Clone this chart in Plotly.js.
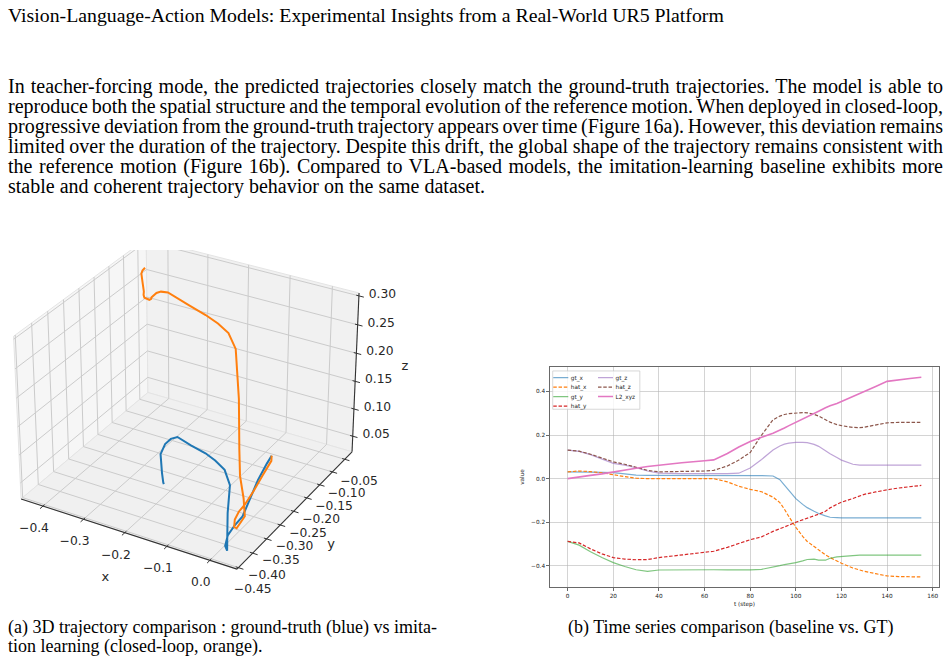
<!DOCTYPE html>
<html>
<head>
<meta charset="utf-8">
<script src="https://cdn.plot.ly/plotly-3.0.1.min.js"></script>
<style>
  html, body { margin: 0; padding: 0; background: #fff; }
  body { width: 951px; height: 664px; position: relative; overflow: hidden;
         font-family: "Liberation Serif", "Times New Roman", serif; color: #000; }
  .title { position: absolute; left: 8px; top: 5px; font-size: 19.8px; line-height: 20px; white-space: nowrap; }
  .para { position: absolute; left: 8px; top: 76px; width: 935px; font-size: 20px; line-height: 20px; }
  .para .ln { white-space: nowrap; }
  .cap { position: absolute; font-size: 18px; line-height: 19px; white-space: nowrap; }
  #traj3d { position: absolute; left: 0; top: 250px; width: 430px; height: 365px; }
  #series { position: absolute; left: 510px; top: 360px; width: 882px; height: 500px;
            transform: scale(0.5); transform-origin: 0 0; }
</style>
</head>
<body>
<div class="title">Vision-Language-Action Models: Experimental Insights from a Real-World UR5 Platform</div>
<div class="para">
  <div class="ln"><span>In teacher-forcing mode, the predicted trajectories closely match the ground-truth trajectories. The model is able to</span></div>
  <div class="ln"><span>reproduce both the spatial structure and the temporal evolution of the reference motion. When deployed in closed-loop,</span></div>
  <div class="ln"><span>progressive deviation from the ground-truth trajectory appears over time (Figure 16a). However, this deviation remains</span></div>
  <div class="ln"><span>limited over the duration of the trajectory. Despite this drift, the global shape of the trajectory remains consistent with</span></div>
  <div class="ln"><span>the reference motion (Figure 16b). Compared to VLA-based models, the imitation-learning baseline exhibits more</span></div>
  <div class="ln last"><span>stable and coherent trajectory behavior on the same dataset.</span></div>
</div>
<div id="traj3d"></div>
<div id="series"></div>
<div class="cap" style="left:8px; top:618px;">(a) 3D trajectory comparison : ground-truth (blue) vs imita-<br>tion learning (closed-loop, orange).</div>
<div class="cap" style="left:568px; top:618px;">(b) Time series comparison (baseline vs. GT)</div>

<script>
// time steps of the recorded episode
const t = [0, 5, 10, 15, 20, 25, 30, 35, 40, 50, 60, 64, 70, 75, 80, 85, 90, 93, 95, 97, 100,
           103, 105, 108, 110, 113, 115, 118, 120, 125, 128, 130, 135, 140, 145, 150, 155];

// ground-truth end-effector position
const gt_x = [0.031, 0.031, 0.030, 0.029, 0.028, 0.022, 0.016, 0.015, 0.015, 0.015, 0.015, 0.015, 0.015, 0.015, 0.015, 0.014, 0.012, -0.005, -0.030, -0.055, -0.092,
              -0.118, -0.133, -0.150, -0.160, -0.171, -0.177, -0.179, -0.180, -0.180, -0.180, -0.180, -0.180, -0.180, -0.180, -0.180, -0.180];
const gt_y = [-0.288, -0.305, -0.335, -0.362, -0.385, -0.403, -0.418, -0.425, -0.419, -0.418, -0.418, -0.418, -0.418, -0.418, -0.418, -0.416, -0.406, -0.399, -0.394, -0.390, -0.385,
              -0.377, -0.371, -0.369, -0.374, -0.374, -0.365, -0.359, -0.357, -0.353, -0.351, -0.351, -0.351, -0.351, -0.351, -0.351, -0.351];
const gt_z = [0.131, 0.125, 0.110, 0.090, 0.070, 0.062, 0.050, 0.035, 0.025, 0.023, 0.023, 0.023, 0.023, 0.025, 0.049, 0.088, 0.131, 0.150, 0.158, 0.163, 0.166,
              0.166, 0.165, 0.157, 0.148, 0.128, 0.114, 0.097, 0.085, 0.066, 0.062, 0.062, 0.062, 0.062, 0.062, 0.062, 0.062];

// imitation-learning policy, closed-loop rollout
const hat_x = [0.031, 0.035, 0.032, 0.027, 0.018, 0.009, 0.002, 0.000, 0.000, 0.000, 0.000, 0.000, -0.015, -0.035, -0.049, -0.060, -0.085, -0.110, -0.140, -0.175, -0.223,
               -0.265, -0.288, -0.312, -0.328, -0.350, -0.362, -0.378, -0.388, -0.410, -0.420, -0.425, -0.436, -0.446, -0.449, -0.450, -0.451];
const hat_y = [-0.288, -0.295, -0.322, -0.345, -0.362, -0.369, -0.372, -0.371, -0.362, -0.350, -0.338, -0.333, -0.315, -0.298, -0.280, -0.267, -0.242, -0.230, -0.222, -0.213, -0.200,
               -0.189, -0.180, -0.170, -0.163, -0.150, -0.134, -0.118, -0.108, -0.091, -0.080, -0.072, -0.061, -0.051, -0.043, -0.037, -0.031];
const hat_z = [0.131, 0.126, 0.112, 0.095, 0.077, 0.066, 0.052, 0.038, 0.031, 0.033, 0.035, 0.038, 0.058, 0.085, 0.120, 0.200, 0.270, 0.287, 0.294, 0.298, 0.300,
               0.303, 0.302, 0.295, 0.287, 0.270, 0.259, 0.248, 0.243, 0.235, 0.234, 0.236, 0.246, 0.256, 0.258, 0.258, 0.258];

// Euclidean error between the two trajectories
const L2_xyz = [0.000, 0.008, 0.015, 0.022, 0.031, 0.040, 0.048, 0.056, 0.062, 0.073, 0.082, 0.086, 0.115, 0.145, 0.170, 0.190, 0.208, 0.222, 0.232, 0.243, 0.258,
                0.272, 0.282, 0.297, 0.309, 0.325, 0.334, 0.345, 0.354, 0.378, 0.391, 0.400, 0.423, 0.446, 0.453, 0.459, 0.465];

// 3D axis limits and ticks
const xLim3d = [-0.455, 0.062];
const yLim3d = [-0.455, -0.020];
const zLim3d = [0.021, 0.305];
const xTicks3d = [-0.4, -0.3, -0.2, -0.1, 0.0];
const yTicks3d = [-0.45, -0.40, -0.35, -0.30, -0.25, -0.20, -0.15, -0.10, -0.05];
const zTicks3d = [0.05, 0.10, 0.15, 0.20, 0.25, 0.30];

// time-series axis ticks
const tTicks = [0, 20, 40, 60, 80, 100, 120, 140, 160];
const vTicks = [-0.4, -0.2, 0.0, 0.2, 0.4];

const MPL = { blue: '#1f77b4', orange: '#ff7f0e', green: '#2ca02c', red: '#d62728',
              purple: '#9467bd', brown: '#8c564b', pink: '#e377c2' };
const sans = 'DejaVu Sans, sans-serif';
const cfg = { displayModeBar: false, staticPlot: true };
const MINUS = '\u2212';

// ---------- justified paragraph: spread each line to the full column width ----------
document.querySelectorAll('.para .ln').forEach(function (div) {
  if (div.classList.contains('last')) return;
  const span = div.querySelector('span');
  const w = span.getBoundingClientRect().width;
  const gaps = (span.textContent.match(/ /g) || []).length;
  if (gaps) span.style.wordSpacing = ((935 - w) / gaps) + 'px';
});

// ---------- 3D trajectories: perspective view (elev 30, azim -60, box 4:4:3) ----------
const VIEW = { elev: 30, azim: -60, dist: 35, box: [4, 4, 3], cx: 189.5, cy: 146.3, scale: 61.85 };
const PANEL = { w: 430, h: 365 };
const el = VIEW.elev * Math.PI / 180, az = VIEW.azim * Math.PI / 180;
const Wv = [Math.cos(el) * Math.cos(az), Math.cos(el) * Math.sin(az), Math.sin(el)];
const Fv = [-Wv[0], -Wv[1], -Wv[2]];
function cross(a, b) { return [a[1] * b[2] - a[2] * b[1], a[2] * b[0] - a[0] * b[2], a[0] * b[1] - a[1] * b[0]]; }
function norm(a) { const n = Math.hypot(a[0], a[1], a[2]); return [a[0] / n, a[1] / n, a[2] / n]; }
const Rv = norm(cross(Fv, [0, 0, 1]));
const Uv = cross(Rv, Fv);

function project(x, y, z) {
  const p = [
    VIEW.box[0] * (x - xLim3d[0]) / (xLim3d[1] - xLim3d[0]) - VIEW.box[0] / 2,
    VIEW.box[1] * (y - yLim3d[0]) / (yLim3d[1] - yLim3d[0]) - VIEW.box[1] / 2,
    VIEW.box[2] * (z - zLim3d[0]) / (zLim3d[1] - zLim3d[0]) - VIEW.box[2] / 2
  ];
  const d = p[0] * Wv[0] + p[1] * Wv[1] + p[2] * Wv[2];
  const f = VIEW.dist / (VIEW.dist - d);
  const r = p[0] * Rv[0] + p[1] * Rv[1] + p[2] * Rv[2];
  const u = p[0] * Uv[0] + p[1] * Uv[1] + p[2] * Uv[2];
  return [VIEW.cx + VIEW.scale * f * r, VIEW.cy - VIEW.scale * f * u];
}

// collects projected polylines, separated by gaps
function Path() { this.x = []; this.y = []; }
Path.prototype.add = function (pts) {
  if (this.x.length) { this.x.push(null); this.y.push(null); }
  pts.forEach(p => { const q = project(p[0], p[1], p[2]); this.x.push(q[0]); this.y.push(q[1]); });
  return this;
};

const [x0, x1] = xLim3d, [y0, y1] = yLim3d, [z0, z1] = zLim3d;

function pane(corners, color) {
  const p = new Path().add(corners.concat([corners[0]]));
  return { type: 'scatter', mode: 'lines', x: p.x, y: p.y, fill: 'toself', fillcolor: color,
           line: { color: '#e4e4e4', width: 1 }, hoverinfo: 'skip' };
}

const grid = new Path();
yTicks3d.forEach(v => grid.add([[x0, v, z0], [x0, v, z1]]).add([[x0, v, z0], [x1, v, z0]]));
xTicks3d.forEach(v => grid.add([[v, y1, z0], [v, y1, z1]]).add([[v, y0, z0], [v, y1, z0]]));
zTicks3d.forEach(v => grid.add([[x0, y0, v], [x0, y1, v]]).add([[x0, y1, v], [x1, y1, v]]));

const spines = new Path()
  .add([[x0, y0, z0], [x1, y0, z0]])
  .add([[x1, y0, z0], [x1, y1, z0]])
  .add([[x1, y1, z0], [x1, y1, z1]]);

const xr = x1 - x0, yr = y1 - y0;
const tickMarks = new Path();
xTicks3d.forEach(v => tickMarks.add([[v, y0 + 0.012 * yr, z0], [v, y0 - 0.022 * yr, z0]]));
yTicks3d.forEach(v => tickMarks.add([[x1 - 0.012 * xr, v, z0], [x1 + 0.022 * xr, v, z0]]));
zTicks3d.forEach(v => tickMarks.add([[x1 - 0.012 * xr, y1, v], [x1 + 0.022 * xr, y1, v]]));

function fmt(v, digits) { const s = Math.abs(v).toFixed(digits); return (v < 0 ? MINUS : '') + s; }
function labels(ticks, at, dx, dy, digits) {
  const pts = ticks.map(at).map(p => project(p[0], p[1], p[2]));
  return { type: 'scatter', mode: 'text', x: pts.map(p => p[0] + dx), y: pts.map(p => p[1] + dy),
           text: ticks.map(v => fmt(v, digits)), textposition: 'middle center', cliponaxis: false,
           textfont: { family: sans, size: 12.3, color: '#262626' }, hoverinfo: 'skip' };
}
function axisName(name, p, dx, dy) {
  const q = project(p[0], p[1], p[2]);
  return { type: 'scatter', mode: 'text', x: [q[0] + dx], y: [q[1] + dy], text: [name],
           textposition: 'middle center', cliponaxis: false,
           textfont: { family: sans, size: 13, color: '#262626' }, hoverinfo: 'skip' };
}
function traj(xs, ys, zs, color) {
  const p = new Path().add(xs.map((v, i) => [v, ys[i], zs[i]]));
  return { type: 'scatter', mode: 'lines', x: p.x, y: p.y, line: { color: color, width: 2 }, hoverinfo: 'skip' };
}

const traces3d = [
  pane([[x0, y0, z0], [x0, y1, z0], [x0, y1, z1], [x0, y0, z1]], '#f6f6f6'),
  pane([[x0, y1, z0], [x1, y1, z0], [x1, y1, z1], [x0, y1, z1]], '#f1f1f1'),
  pane([[x0, y0, z0], [x1, y0, z0], [x1, y1, z0], [x0, y1, z0]], '#f0f0f0'),
  { type: 'scatter', mode: 'lines', x: grid.x, y: grid.y, line: { color: '#cbcbcb', width: 1 }, hoverinfo: 'skip' },
  { type: 'scatter', mode: 'lines', x: spines.x, y: spines.y, line: { color: '#333', width: 1.1 }, hoverinfo: 'skip' },
  { type: 'scatter', mode: 'lines', x: tickMarks.x, y: tickMarks.y, line: { color: '#333', width: 1 }, hoverinfo: 'skip' },
  traj(gt_x, gt_y, gt_z, MPL.blue),
  traj(hat_x, hat_y, hat_z, MPL.orange),
  labels(xTicks3d, v => [v, y0, z0], -9, 23, 1),
  labels(yTicks3d, v => [x1, v, z0], 14.3, 22.4, 2),
  labels(zTicks3d, v => [x1, y1, v], 23.5, -1, 2),
  axisName('x', [(x0 + x1) / 2, y0, z0], -21, 45),
  axisName('y', [x1, (y0 + y1) / 2, z0], 34, 37),
  axisName('z', [x1, y1, (z0 + z1) / 2], 49.5, -7)
];

Plotly.newPlot('traj3d', traces3d, {
  width: PANEL.w, height: PANEL.h,
  margin: { l: 0, r: 0, t: 0, b: 0 },
  paper_bgcolor: 'rgba(0,0,0,0)', plot_bgcolor: 'rgba(0,0,0,0)', showlegend: false,
  xaxis: { range: [0, PANEL.w], visible: false, fixedrange: true },
  yaxis: { range: [PANEL.h, 0], visible: false, fixedrange: true }
}, cfg);

// ---------- time series (drawn at 2x, scaled down by CSS) ----------
function line(name, y, color, dashed, width, leg) {
  return { type: 'scatter', mode: 'lines', name: name, x: t, y: y, legend: leg,
           line: { color: color, width: width, dash: dashed ? '7px,3.5px' : 'solid' } };
}
function fade(hex, a) {
  const n = parseInt(hex.slice(1), 16);
  return 'rgba(' + (n >> 16) + ',' + ((n >> 8) & 255) + ',' + (n & 255) + ',' + a + ')';
}

const seriesTraces = [
  line('gt_x', gt_x, fade(MPL.blue, 0.6), false, 2.4, 'legend'),
  line('hat_x', hat_x, MPL.orange, true, 2.4, 'legend'),
  line('gt_y', gt_y, fade(MPL.green, 0.6), false, 2.4, 'legend'),
  line('hat_y', hat_y, MPL.red, true, 2.4, 'legend'),
  line('gt_z', gt_z, fade(MPL.purple, 0.6), false, 2.4, 'legend2'),
  line('hat_z', hat_z, MPL.brown, true, 2.4, 'legend2'),
  line('L2_xyz', L2_xyz, MPL.pink, false, 3.2, 'legend2')
];

const legendBase = {
  bgcolor: 'rgba(0,0,0,0)', borderwidth: 0,
  font: { family: sans, size: 11.5, color: '#222' },
  tracegroupgap: 0, itemwidth: 30,
  xanchor: 'left', yanchor: 'top', xref: 'paper', yref: 'paper'
};

Plotly.newPlot('series', seriesTraces, {
  width: 882, height: 500,
  margin: { l: 80, r: 24, t: 14, b: 46 },
  paper_bgcolor: '#fff', plot_bgcolor: '#fff',
  font: { family: sans, size: 11.5, color: '#222' },
  xaxis: {
    range: [-7.75, 162.75], tickvals: tTicks, tickformat: 'd',
    showgrid: true, gridcolor: 'rgba(176,176,176,0.55)', gridwidth: 2,
    showline: true, mirror: true, linecolor: '#444', linewidth: 1.6,
    ticks: 'outside', ticklen: 6, tickwidth: 1.6, tickcolor: '#444',
    zeroline: false,
    title: { text: 't (step)', standoff: 6, font: { family: sans, size: 11.5, color: '#222' } }
  },
  yaxis: {
    range: [-0.497, 0.512], tickvals: vTicks, tickformat: '.1f',
    showgrid: true, gridcolor: 'rgba(176,176,176,0.55)', gridwidth: 2,
    showline: true, mirror: true, linecolor: '#444', linewidth: 1.6,
    ticks: 'outside', ticklen: 6, tickwidth: 1.6, tickcolor: '#444',
    zeroline: false,
    title: { text: 'value', standoff: 10, font: { family: sans, size: 11.5, color: '#222' } }
  },
  legend: Object.assign({}, legendBase, { x: 0.002, y: 0.985 }),
  legend2: Object.assign({}, legendBase, { x: 0.117, y: 0.985 }),
  shapes: [{
    type: 'rect', xref: 'paper', yref: 'paper', layer: 'above',
    x0: 0.007, x1: 0.231, y0: 0.808, y1: 0.982,
    fillcolor: 'rgba(255,255,255,0.8)', line: { color: 'rgba(200,200,200,0.9)', width: 1.6 }
  }]
}, cfg);
</script>
</body>
</html>
